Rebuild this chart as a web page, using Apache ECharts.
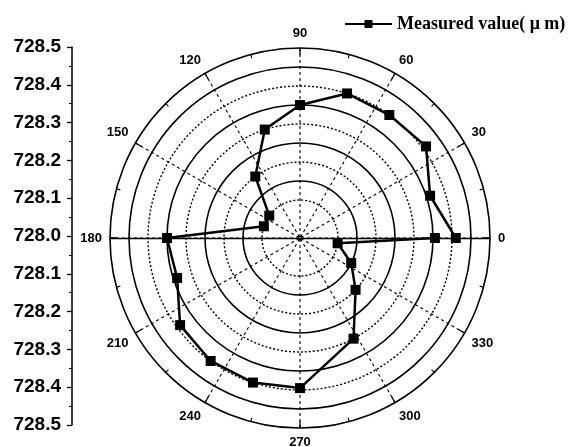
<!DOCTYPE html>
<html>
<head>
<meta charset="utf-8">
<script src="https://cdn.jsdelivr.net/npm/echarts@6/dist/echarts.min.js"></script>
<style>
html,body{margin:0;padding:0;background:#fff;}
#chart{width:568px;height:447px;}
</style>
</head>
<body>
<div id="chart"></div>
<script>
// Angles (degrees) of each measurement
var angles = [0, 18, 36, 54, 72, 90, 108, 126, 144, 162, 180, 198, 216, 234, 252, 270, 298, 317, 334, 352, 360];
// Measured values (radius)
var measured = [728.41, 728.36, 728.41, 728.40, 728.40, 728.35, 728.30, 728.20, 728.10, 728.10, 728.35, 728.34, 728.39, 728.40, 728.40, 728.395, 728.30, 728.20, 728.15, 728.10, 728.355];
var seriesName = 'Measured value( \u03bc m)';
var angleLabels = ['0', '30', '60', '90', '120', '150', '180', '210', '240', '270', '300', '330'];
var leftTickLabels = ['728.5', '728.4', '728.3', '728.2', '728.1', '728.0', '728.1', '728.2', '728.3', '728.4', '728.5'];

var polarData = angles.map(function (a, i) { return [measured[i], a]; });

var chart = echarts.init(document.getElementById('chart'), null, {renderer: 'canvas'});
var C = [300, 238], R = 190;
var T = 'rgba(0,0,0,0)';
chart.setOption({
  backgroundColor: '#fff',
  animation: false,
  legend: {
    data: [seriesName],
    left: 339, top: 10,
    itemWidth: 47, itemHeight: 10, itemGap: 4,
    textStyle: {fontFamily: 'Liberation Serif', fontSize: 18, fontWeight: 'bold', color: '#000'}
  },
  polar: [
    {center: C, radius: R},
    {center: C, radius: R}
  ],
  angleAxis: [
    {
      polarIndex: 0, type: 'value', startAngle: 0, clockwise: false,
      min: 0, max: 360, interval: 30,
      axisLine: {show: true, lineStyle: {color: '#000', width: 1.6}},
      axisTick: {show: true, inside: true, length: 7, lineStyle: {color: '#000', width: 1.3}},
      minorTick: {show: true, splitNumber: 2, length: 4, lineStyle: {color: '#000', width: 1.1}},
      axisLabel: {
        show: true, margin: 8, color: '#000', fontFamily: 'Liberation Sans', fontWeight: 'bold', fontSize: 13,
        formatter: function (v) { var k = Math.round(v / 30); return k < angleLabels.length ? angleLabels[k] : ''; }
      },
      splitLine: {show: true, lineStyle: {color: '#000', width: 1.1, type: [3, 3]}},
      minorSplitLine: {show: false}
    },
    {
      polarIndex: 1, type: 'value', startAngle: 180, clockwise: false,
      min: 0, max: 360, interval: 30,
      axisLine: {show: false}, axisTick: {show: false}, axisLabel: {show: false}, splitLine: {show: false}
    }
  ],
  radiusAxis: [
    {
      polarIndex: 0, type: 'value', min: 728, max: 728.5, interval: 0.05,
      axisLine: {show: true, lineStyle: {color: '#000', width: 1.3}},
      axisTick: {show: false}, axisLabel: {show: false},
      splitLine: {show: true, lineStyle: {width: 1.6, type: 'solid',
        color: [T, T, T, '#000', T, '#000', T, '#000', T, '#000', T]}}
    },
    {
      polarIndex: 1, type: 'value', min: 728, max: 728.5, interval: 0.1,
      axisLine: {show: true, lineStyle: {color: '#000', width: 1.3}},
      axisTick: {show: false}, axisLabel: {show: false},
      splitLine: {show: true, lineStyle: {width: 1.4, type: [2, 2],
        color: [T, '#000', '#000', '#000', '#000', T]}}
    }
  ],
  grid: {left: 72, top: 47, width: 1, height: 378, containLabel: false},
  xAxis: {type: 'value', show: false, min: 0, max: 1},
  yAxis: {
    type: 'value', min: -0.5, max: 0.5, interval: 0.1,
    axisLine: {show: true, lineStyle: {color: '#000', width: 1.5}},
    axisTick: {show: true, inside: false, length: 5, lineStyle: {color: '#000', width: 1.3}},
    minorTick: {show: true, splitNumber: 2, length: 3, lineStyle: {color: '#000', width: 1}},
    splitLine: {show: false},
    axisLabel: {
      margin: 11, color: '#000', fontFamily: 'Liberation Sans', fontWeight: 'bold', fontSize: 19,
      formatter: function (v, idx) { return leftTickLabels[10 - Math.round((v + 0.5) * 10)]; }
    }
  },
  series: [{
    name: seriesName, type: 'line', coordinateSystem: 'polar', polarIndex: 0,
    data: polarData,
    symbol: 'rect', symbolSize: 10,
    lineStyle: {color: '#000', width: 2.5},
    itemStyle: {color: '#000'},
    z: 10
  }]
});
</script>
</body>
</html>
